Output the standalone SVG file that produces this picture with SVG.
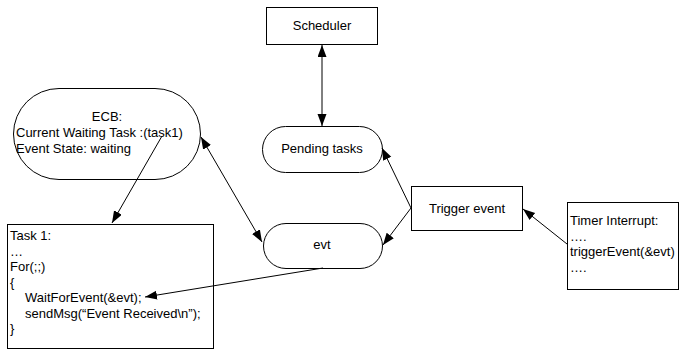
<svg xmlns="http://www.w3.org/2000/svg" width="680" height="361" viewBox="0 0 680 361">
<defs>
<marker id="ah" markerUnits="userSpaceOnUse" markerWidth="13" markerHeight="10" refX="12" refY="4.5" orient="auto-start-reverse" viewBox="0 0 13 10">
<path d="M0,0 L12,4.5 L0,9 z" fill="#000"/>
</marker>
<style>
.shape{fill:#fff;stroke:#000;stroke-width:1}
.t{font-family:"Liberation Sans",Arial,sans-serif;font-size:13px;fill:#000}
.c{text-anchor:middle}
.conn line{stroke:#000;stroke-width:1;fill:none}
</style>
</defs>
<rect width="680" height="361" fill="#fff"/>
<g id="scheduler">
<rect class="shape" x="266.5" y="7.5" width="111" height="37"/>
<text class="t c" x="322" y="30">Scheduler</text>
</g>
<g id="pending">
<rect class="shape" x="262.5" y="126.5" width="120" height="46" rx="23" ry="23"/>
<text class="t c" x="322" y="153">Pending tasks</text>
</g>
<g id="ecb">
<rect class="shape" x="13.5" y="88.5" width="187" height="91" rx="45.5" ry="45.5"/>
<text class="t c" x="107" y="121">ECB:</text>
<text class="t" x="16" y="137">Current Waiting Task :(task1)</text>
<text class="t" x="16" y="153">Event State: waiting</text>
</g>
<g id="evt">
<rect class="shape" x="263.5" y="223.5" width="119" height="45" rx="22.5" ry="22.5"/>
<text class="t c" x="322" y="249">evt</text>
</g>
<g id="trigger">
<rect class="shape" x="411.5" y="186.5" width="111" height="44"/>
<text class="t c" x="467" y="213">Trigger event</text>
</g>
<g id="timer">
<rect class="shape" x="567.5" y="202.5" width="111" height="87"/>
<text class="t" x="570" y="225">Timer Interrupt:</text>
<text class="t" x="570" y="241">….</text>
<text class="t" x="570" y="256">triggerEvent(&amp;evt)</text>
<text class="t" x="570" y="272">….</text>
</g>
<g id="task1">
<rect class="shape" x="7.5" y="224.5" width="206" height="124"/>
<text class="t" x="10" y="240">Task 1:</text>
<text class="t" x="10" y="255.5">…</text>
<text class="t" x="10" y="271">For(;;)</text>
<text class="t" x="10" y="286.5">{</text>
<text class="t" x="25" y="302">WaitForEvent(&amp;evt);</text>
<text class="t" x="25" y="317.5">sendMsg(“Event Received\n”);</text>
<text class="t" x="10" y="333">}</text>
</g>
<g id="connectors" class="conn">
<line x1="322" y1="45" x2="322" y2="126" marker-start="url(#ah)" marker-end="url(#ah)"/>
<line x1="201" y1="137" x2="262" y2="242" marker-start="url(#ah)" marker-end="url(#ah)"/>
<line x1="162" y1="136" x2="112" y2="223" marker-end="url(#ah)"/>
<line x1="411" y1="208" x2="382" y2="148" marker-end="url(#ah)"/>
<line x1="411" y1="208" x2="383" y2="245" marker-end="url(#ah)"/>
<line x1="567" y1="244" x2="523" y2="209" marker-end="url(#ah)"/>
<line x1="323" y1="268" x2="145" y2="297" marker-end="url(#ah)"/>
</g>
</svg>
